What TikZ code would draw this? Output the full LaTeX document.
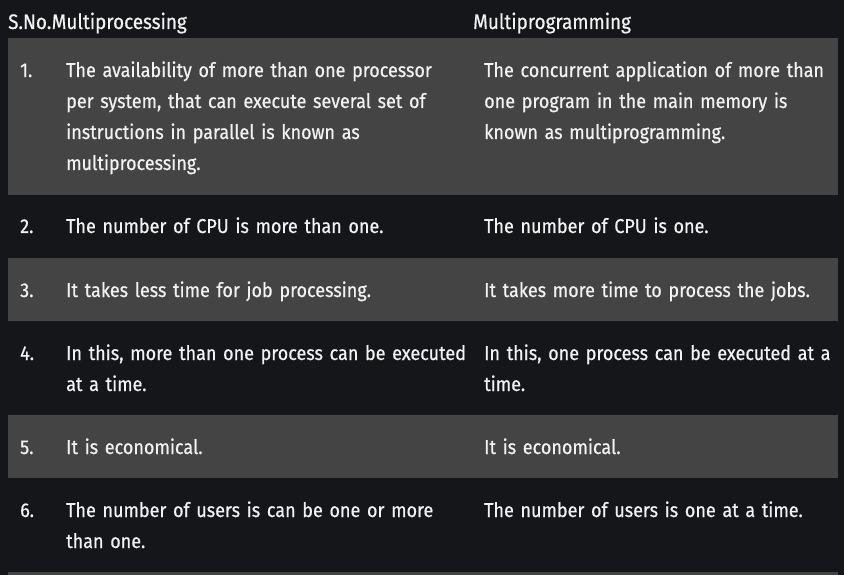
\documentclass[tikz,border=0pt]{standalone}
\usepackage{fontspec}
\setmainfont{Fira Sans}[FakeStretch=0.9, WordSpace=0.7, FakeBold=0.6]
\usetikzlibrary{positioning}
\hyphenpenalty=10000
\definecolor{pagebg}{RGB}{21,22,26}
\definecolor{rowgray}{RGB}{68,68,68}
\definecolor{ink}{RGB}{242,242,242}
\tikzset{%
    cell/.style={anchor=base west, inner sep=0pt, text=ink, align=left,
        font=\fontsize{20}{31}\selectfont},
    headcell/.style={cell, font=\fontsize{21}{31}\selectfont},
    leftcell/.style={cell, text width=410pt},
    rightcell/.style={cell, text width=358pt}
}
\begin{document}
\begin{tikzpicture}[x=1pt,y=-1pt]
    \fill[pagebg] (0,0) rectangle (844,575);
    \useasboundingbox (0,0) rectangle (844,575);
    % shaded rows
    \foreach \top/\bot in {38/195, 258/321, 415/478, 572/580}
        \fill[rowgray] (8,\top) rectangle (838,\bot);
    % header
    \node[headcell] (sno) at (8,29) {S.No.};
    \node[headcell, right=0pt of sno.base east, anchor=base west] (hproc) {Multiprocessing};
    \node[headcell] (hprog) at (473,29) {Multiprogramming};
    % rows
    \node[cell] (n1) at (20,77) {1.};
    \node[leftcell] (l1) at (66,77) {The availability of more than one processor\\per system, that can execute several set of\\instructions in parallel is known as\\multiprocessing.};
    \node[rightcell] (r1) at (484,77) {The concurrent application of more than\\one program in the main memory is\\known as multiprogramming.};
    \node[cell] (n2) at (20,233) {2.};
    \node[leftcell] (l2) at (66,233) {The number of CPU is more than one.};
    \node[rightcell] (r2) at (484,233) {The number of CPU is one.};
    \node[cell] (n3) at (20,297) {3.};
    \node[leftcell] (l3) at (66,297) {It takes less time for job processing.};
    \node[rightcell] (r3) at (484,297) {It takes more time to process the jobs.};
    \node[cell] (n4) at (20,360) {4.};
    \node[leftcell] (l4) at (66,360) {In this, more than one process can be executed\\at a time.};
    \node[rightcell] (r4) at (484,360) {In this, one process can be executed at a\\time.};
    \node[cell] (n5) at (20,454) {5.};
    \node[leftcell] (l5) at (66,454) {It is economical.};
    \node[rightcell] (r5) at (484,454) {It is economical.};
    \node[cell] (n6) at (20,517) {6.};
    \node[leftcell] (l6) at (66,517) {The number of users is can be one or more\\than one.};
    \node[rightcell] (r6) at (484,517) {The number of users is one at a time.};
\end{tikzpicture}
\end{document}
